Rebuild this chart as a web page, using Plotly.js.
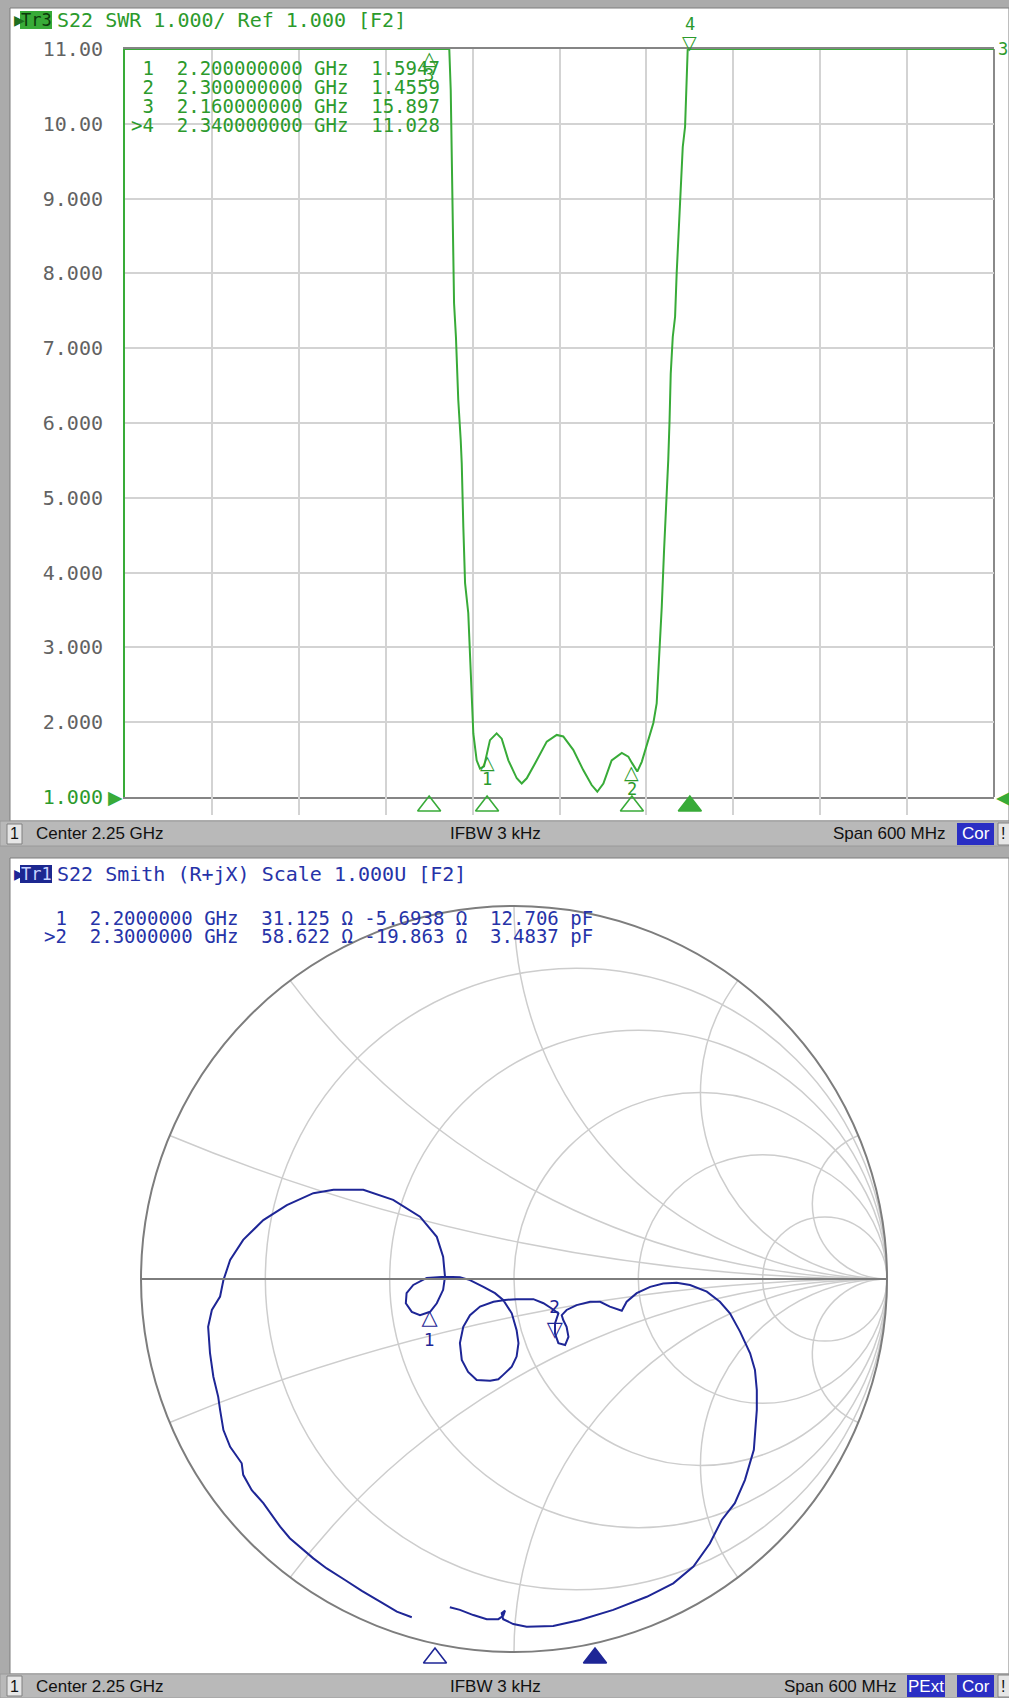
<!DOCTYPE html>
<html><head><meta charset="utf-8">
<script src="https://cdn.plot.ly/plotly-3.0.1.min.js"></script>
<style>html,body{margin:0;padding:0;background:#ababab;}#chart{width:1009px;height:1698px;}</style>
</head><body><div id="chart"></div>
<script>
// ---------------- DATA ----------------
// Top panel: S22 SWR vs frequency (GHz). Values above 11 are off-screen estimates.
const freqGHz = [1.95,2.00,2.05,2.10,2.13,2.16,2.17,2.1739,2.1749,2.1756,2.1763,2.1772,2.1785,2.1801,2.1818,2.1825,2.1836,2.1848,2.1870,2.1882,2.1894,2.1905,2.1928,2.1951,2.1979,2.2000,2.2020,2.2066,2.2101,2.2147,2.2205,2.2239,2.2274,2.2343,2.2412,2.2481,2.2526,2.2595,2.2664,2.2722,2.2761,2.2803,2.2860,2.2930,2.2975,2.3000,2.3037,2.3068,2.3113,2.3148,2.3171,2.3189,2.3206,2.3222,2.3240,2.3251,2.3260,2.3268,2.3282,2.3298,2.3309,2.3320,2.3337,2.3351,2.3367,2.3374,2.3385,2.3400,2.3500,2.4000,2.4500,2.5000,2.5500];
const swr = [28.0,26.5,24.0,20.5,18.0,15.897,12.8,11.2,10.45,9.36,8.45,7.60,7.15,6.31,5.77,5.46,4.61,3.86,3.46,2.88,2.25,1.85,1.49,1.38,1.41,1.5947,1.76,1.85,1.78,1.49,1.25,1.18,1.25,1.49,1.74,1.83,1.81,1.63,1.36,1.16,1.07,1.18,1.49,1.59,1.54,1.4559,1.34,1.47,1.76,1.99,2.25,2.88,3.54,4.30,4.97,5.51,6.04,6.66,7.15,7.42,8.00,8.45,9.20,9.69,9.96,10.50,10.99,11.028,13.5,19.0,23.5,26.5,28.5];
const markerNums = [1, 2, 3, 4];
const markerFreqGHz = [2.2, 2.3, 2.16, 2.34];
const markerSWR = [1.5947, 1.4559, 15.897, 11.028];
const activeMarker = 4;
const yTickVals = [1,2,3,4,5,6,7,8,9,10,11];
const yTickLabels = ['1.000','2.000','3.000','4.000','5.000','6.000','7.000','8.000','9.000','10.00','11.00'];
const xGridVals = [1.95,2.01,2.07,2.13,2.19,2.25,2.31,2.37,2.43,2.49,2.55];

// Bottom panel: S22 reflection coefficient trace (Gamma real / imaginary), sweep order
const gammaRe = [-0.274,-0.314,-0.359,-0.408,-0.453,-0.502,-0.538,-0.601,-0.627,-0.672,-0.703,-0.726,-0.730,-0.761,-0.779,-0.788,-0.793,-0.806,-0.815,-0.820,-0.810,-0.788,-0.779,-0.761,-0.726,-0.672,-0.609,-0.538,-0.484,-0.404,-0.324,-0.252,-0.207,-0.190,-0.185,-0.190,-0.207,-0.225,-0.252,-0.274,-0.290,-0.288,-0.270,-0.234,-0.185,-0.145,-0.118,-0.082,-0.051,-0.029,-0.006,0.007,0.012,0.007,-0.006,-0.029,-0.042,-0.064,-0.100,-0.123,-0.140,-0.145,-0.136,-0.118,-0.091,-0.055,-0.024,0.007,0.052,0.079,0.101,0.119,0.110,0.110,0.119,0.137,0.146,0.141,0.132,0.128,0.141,0.168,0.204,0.231,0.257,0.289,0.302,0.329,0.365,0.400,0.436,0.472,0.517,0.552,0.579,0.606,0.633,0.646,0.651,0.651,0.643,0.619,0.592,0.557,0.525,0.481,0.427,0.356,0.266,0.177,0.105,0.034,-0.002,-0.029,-0.033,-0.024,-0.029,-0.042,-0.073,-0.109,-0.145,-0.172];
const gammaIm = [-0.907,-0.892,-0.865,-0.836,-0.807,-0.776,-0.749,-0.695,-0.664,-0.601,-0.566,-0.525,-0.494,-0.450,-0.405,-0.351,-0.316,-0.262,-0.199,-0.128,-0.083,-0.047,-0.003,0.051,0.105,0.158,0.198,0.230,0.239,0.239,0.212,0.167,0.113,0.060,0.006,-0.029,-0.065,-0.088,-0.097,-0.088,-0.065,-0.038,-0.016,0.003,0.006,0.005,-0.003,-0.021,-0.038,-0.056,-0.092,-0.137,-0.172,-0.208,-0.235,-0.257,-0.269,-0.273,-0.271,-0.249,-0.217,-0.172,-0.128,-0.097,-0.074,-0.061,-0.056,-0.054,-0.054,-0.065,-0.079,-0.092,-0.119,-0.146,-0.172,-0.177,-0.155,-0.128,-0.110,-0.097,-0.083,-0.070,-0.061,-0.061,-0.074,-0.085,-0.061,-0.038,-0.021,-0.012,-0.010,-0.016,-0.034,-0.061,-0.092,-0.141,-0.199,-0.244,-0.298,-0.351,-0.458,-0.539,-0.601,-0.646,-0.709,-0.771,-0.816,-0.852,-0.887,-0.914,-0.930,-0.932,-0.925,-0.912,-0.896,-0.889,-0.903,-0.912,-0.912,-0.901,-0.887,-0.880];
const smithMarkerNums = [1, 2];
const smithMarkerFreqGHz = [2.2, 2.3];
const smithMarkerR = [31.125, 58.622];   // ohm
const smithMarkerX = [-5.6938, -19.863]; // ohm
const smithMarkerC = [12.706, 3.4837];   // pF
const smithActive = 2;
const Z0 = 50;
const smithRealTicks = [0.2, 0.5, 1, 2, 5];
const smithImagTicks = [-5, -2, -1, -0.5, -0.2, 0.2, 0.5, 1, 2, 5];

// ---------------- helpers ----------------
const W = 1009, H = 1698;
const PX = x => x / W;
const PY = y => 1 - y / H;
const nb = s => s.replace(/ /g, '\u00a0');
const GREEN = '#38ab38', GREEN_TXT = '#2c9a2c';
const NAVY = '#1e2696', BLUE_TXT = '#2633a8';
const MONO = '"DejaVu Sans Mono", monospace';
const SANS = '"Liberation Sans", Arial, sans-serif';
const GLY = '"DejaVu Sans", sans-serif';
const Y_MAX = 11;

const shapes = [];
const annotations = [];
function rect(x0, y0, x1, y1, fill, line, lw, layer) {
  shapes.push({type:'rect', xref:'paper', yref:'paper', x0:PX(x0), x1:PX(x1), y0:PY(y1), y1:PY(y0),
    fillcolor: fill, line:{color: line || 'rgba(0,0,0,0)', width: lw || 0}, layer: layer || 'below'});
}
function txt(x, y, text, o) {
  o = o || {};
  annotations.push(Object.assign({xref:'paper', yref:'paper', x:PX(x), y:PY(y), text:text, showarrow:false,
    xanchor:o.xanchor || 'left', yanchor:'middle', font:{family:o.family || MONO, size:o.size || 19, color:o.color || '#000'},
    bgcolor:o.bg, borderpad:o.pad === undefined ? 0 : o.pad}, o.extra || {}));
}

// ---------------- page chrome ----------------
rect(10, 8, 1009, 821, '#ffffff', '#7c7c7c', 1);
rect(0, 821, 1009, 846, '#b9b9b9', '#9a9a9a', 1);
rect(10, 858, 1009, 1674, '#ffffff', '#7c7c7c', 1);
rect(0, 1674, 1009, 1698, '#b9b9b9', '#9a9a9a', 1);

// top header
txt(13, 20, '▶', {family: GLY, size: 14, color: '#1f6f1f'});
rect(20, 11, 52, 29, GREEN, null, 0);
txt(36, 20, 'Tr3', {xanchor:'center', size:17, color:'#0b3a0b'});
txt(56, 20, nb('S22 SWR 1.000/ Ref 1.000 [F2]'), {size:20, color:GREEN_TXT});

// top marker table
markerNums.forEach((n, i) => {
  const id = (n === activeMarker ? '>' : ' ') + n;
  const s = id + '  ' + markerFreqGHz[i].toFixed(9) + ' GHz  ' + markerSWR[i].toPrecision(5);
  txt(130, 68 + i * 19, nb(s), {size:19, color:GREEN_TXT});
});

// status bars
function statusBar(yc, items) {
  rect(7, yc - 10, 22, yc + 10, '#e6e6e6', '#808080', 1);
  txt(14.5, yc, '1', {xanchor:'center', family:SANS, size:16, color:'#111'});
  txt(35, yc, 'Center 2.25 GHz', {family:SANS, size:17, color:'#111'});
  txt(449, yc, 'IFBW 3 kHz', {family:SANS, size:17, color:'#111'});
  items.forEach(it => {
    if (it.box) {
      rect(it.x0, yc - 11, it.x1, yc + 11, '#2a2ec4', null, 0);
      txt((it.x0 + it.x1) / 2, yc, it.t, {xanchor:'center', family:SANS, size:17, color:'#ffffff'});
    } else {
      txt(it.x1, yc, it.t, {xanchor:'right', family:SANS, size:17, color:'#111'});
    }
  });
  rect(998, yc - 11, 1012, yc + 11, '#e6e6e6', '#808080', 1);
  txt(1003, yc, '!', {xanchor:'center', family:SANS, size:16, color:'#111'});
}
statusBar(834, [{t:'Span 600 MHz', x1:946}, {t:'Cor', box:true, x0:957, x1:994}]);
statusBar(1686, [{t:'Span 600 MHz', x1:897}, {t:'PExt', box:true, x0:907, x1:945}, {t:'Cor', box:true, x0:957, x1:994}]);

// bottom header
txt(13, 874, '▶', {family: GLY, size: 14, color: NAVY});
rect(20, 865, 52, 883, '#1c2790', null, 0);
txt(36, 874, 'Tr1', {xanchor:'center', size:17, color:'#c9d2ff'});
txt(56, 874, nb('S22 Smith (R+jX) Scale 1.000U [F2]'), {size:20, color:BLUE_TXT});

// smith marker table
smithMarkerNums.forEach((n, i) => {
  const id = (n === smithActive ? '>' : ' ') + n;
  const s = id + '  ' + smithMarkerFreqGHz[i].toFixed(7) + ' GHz  ' + smithMarkerR[i].toPrecision(5) + ' Ω ' +
    smithMarkerX[i].toPrecision(5).padStart(7) + ' Ω  ' + smithMarkerC[i].toPrecision(5).padStart(6) + ' pF';
  txt(43, 918 + i * 17.5, nb(s), {size:19, color:BLUE_TXT});
});

// ---------------- top chart annotations (markers on trace) ----------------
markerNums.forEach((n, i) => {
  const yv = Math.min(markerSWR[i], Y_MAX);
  const base = {xref:'x', yref:'y', x:markerFreqGHz[i], y:yv, showarrow:false, xanchor:'center', borderpad:0};
  if (n === activeMarker) {
    annotations.push(Object.assign({}, base, {text:'▽', yanchor:'bottom', yshift:-5, font:{family:GLY, size:19, color:GREEN_TXT}}));
    annotations.push(Object.assign({}, base, {text:String(n), yanchor:'bottom', yshift:14, font:{family:MONO, size:17, color:GREEN_TXT}}));
  } else {
    annotations.push(Object.assign({}, base, {text:'△', yanchor:'top', yshift:3, font:{family:GLY, size:19, color:GREEN_TXT}}));
    annotations.push(Object.assign({}, base, {text:String(n), yanchor:'top', yshift:-15, font:{family:MONO, size:17, color:GREEN_TXT}}));
  }
});
// reference level arrows
annotations.push({xref:'x', yref:'y', x:xGridVals[0], y:1, text:'▶', showarrow:false, xanchor:'right', yanchor:'middle',
  font:{family:GLY, size:19, color:GREEN}, borderpad:0, xshift:-1});
annotations.push({xref:'x', yref:'y', x:xGridVals[xGridVals.length - 1], y:1, text:'◀', showarrow:false, xanchor:'left', yanchor:'middle',
  font:{family:GLY, size:19, color:GREEN}, borderpad:0, xshift:1});
annotations.push({xref:'x', yref:'y', x:xGridVals[xGridVals.length - 1], y:Y_MAX, text:'3', showarrow:false, xanchor:'left', yanchor:'middle',
  font:{family:MONO, size:17, color:GREEN_TXT}, borderpad:0, xshift:3});

// ---------------- traces ----------------
const swrShown = swr.map(v => Math.min(v, Y_MAX));
const zRe = [], zIm = [];
gammaRe.forEach((a, i) => {
  const b = gammaIm[i];
  const den = (1 - a) * (1 - a) + b * b;
  zRe.push((1 - a * a - b * b) / den);
  zIm.push((2 * b) / den);
});
const mzRe = smithMarkerR.map(r => r / Z0);
const mzIm = smithMarkerX.map(x => x / Z0);
const isAct = (i) => smithMarkerNums[i] === smithActive;
const big = g => '<span style="font-size:21px">' + g + '</span>';

const traces = [
  {type:'scatter', x:freqGHz, y:swrShown, mode:'lines', line:{color:GREEN, width:2}, cliponaxis:false, hoverinfo:'skip'},
  {type:'scatter', xaxis:'x', yaxis:'y3', x:markerFreqGHz, y:markerFreqGHz.map(() => 0.5), mode:'markers', cliponaxis:false, hoverinfo:'skip',
    marker:{size:20, color:GREEN, symbol:markerNums.map(n => n === activeMarker ? 'triangle-up' : 'triangle-up-open'), line:{color:GREEN, width:1.6}}},
  {type:'scattersmith', subplot:'smith', real:zRe, imag:zIm, mode:'lines', line:{color:NAVY, width:2}, hoverinfo:'skip'},
  {type:'scattersmith', subplot:'smith', real:mzRe.filter((v, i) => !isAct(i)), imag:mzIm.filter((v, i) => !isAct(i)), mode:'text',
    text:smithMarkerNums.filter(n => n !== smithActive).map(n => big('△') + '<br>' + n), textposition:'bottom center',
    textfont:{family:GLY, size:17, color:NAVY}, marker:{size:1}, hoverinfo:'skip'},
  {type:'scattersmith', subplot:'smith', real:mzRe.filter((v, i) => isAct(i)), imag:mzIm.filter((v, i) => isAct(i)), mode:'text',
    text:smithMarkerNums.filter(n => n === smithActive).map(n => n + '<br>' + big('▽')), textposition:'top center',
    textfont:{family:GLY, size:17, color:NAVY}, marker:{size:1}, hoverinfo:'skip'},
  {type:'scatter', xaxis:'x2', yaxis:'y2', x:smithMarkerFreqGHz, y:smithMarkerFreqGHz.map(() => 0.5), mode:'markers', cliponaxis:false, hoverinfo:'skip',
    marker:{size:20, color:NAVY, symbol:smithMarkerNums.map(n => n === smithActive ? 'triangle-up' : 'triangle-up-open'), line:{color:NAVY, width:1.6}}}
];

// right border of SWR plot (gray)
shapes.push({type:'line', xref:'paper', yref:'paper', x0:PX(994), x1:PX(994), y0:PY(797), y1:PY(49), line:{color:'#8a8a8a', width:2}, layer:'below'});

const gridStyle = {showgrid:true, gridcolor:'#cdcdcd', gridwidth:1.5, showline:true, linecolor:'#7d7d7d', linewidth:2, showticklabels:false, ticks:''};

const layout = {
  width: W, height: H, margin:{l:0, r:0, t:0, b:0},
  paper_bgcolor:'#ababab', plot_bgcolor:'rgba(0,0,0,0)', showlegend:false, hovermode:false,
  xaxis:{domain:[PX(125), PX(994)], range:[xGridVals[0], xGridVals[xGridVals.length - 1]], tickvals:xGridVals,
    showticklabels:false, ticks:'', showgrid:true, gridcolor:'#d3d3d3', gridwidth:2, zeroline:false,
    showline:true, mirror:true, linecolor:'#858585', linewidth:2, layer:'below traces', fixedrange:true},
  yaxis:{domain:[PY(797), PY(49)], range:[1, Y_MAX], tickvals:yTickVals,
    ticktext:yTickLabels.map((t, i) => i === 0 ? '<span style="color:' + GREEN_TXT + '">' + t + '</span>' : t),
    tickfont:{family:MONO, size:20, color:'#626262'}, ticks:'', ticklabelstandoff:16,
    showgrid:true, gridcolor:'#d3d3d3', gridwidth:2, zeroline:false,
    showline:true, linecolor:GREEN, linewidth:2, layer:'below traces', fixedrange:true},
  yaxis3:{domain:[PY(815), PY(797)], range:[0, 1], visible:false, anchor:'x', fixedrange:true},
  xaxis2:{domain:[PX(35), PX(995)], range:[1.95, 2.55], visible:false, anchor:'y2', fixedrange:true},
  yaxis2:{domain:[PY(1668), PY(1648)], range:[0, 1], visible:false, anchor:'x2', fixedrange:true},
  smith:{
    domain:{x:[PX(514 - 373), PX(514 + 373)], y:[PY(1279 + 373), PY(1279 - 373)]},
    bgcolor:'rgba(0,0,0,0)',
    realaxis:Object.assign({tickvals:smithRealTicks}, gridStyle),
    imaginaryaxis:Object.assign({tickvals:smithImagTicks}, gridStyle)
  },
  shapes: shapes,
  annotations: annotations
};

Plotly.newPlot('chart', traces, layout, {staticPlot:true, displayModeBar:false});
</script>
</body></html>
